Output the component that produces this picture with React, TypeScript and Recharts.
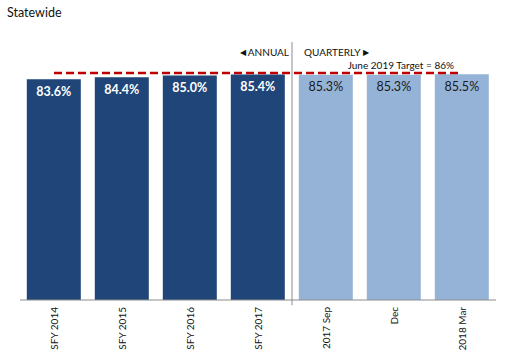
import { BarChart, Bar, Cell, XAxis, YAxis, ReferenceLine, LabelList } from "recharts";

const categories = ["SFY 2014", "SFY 2015", "SFY 2016", "SFY 2017", "2017 Sep", "Dec", "2018 Mar"];
const values = [83.6, 84.4, 85.0, 85.4, 85.3, 85.3, 85.5];
const periods = ["annual", "annual", "annual", "annual", "quarterly", "quarterly", "quarterly"];
const target = 86;
const targetLabel = "June 2019 Target = 86%";

const data = categories.map((name, i) => ({ name, value: values[i], period: periods[i] }));

const FONT = "Lato, 'Noto Sans', sans-serif";
const DARK = "#1F4579";
const LIGHT = "#95B3D7";

function RotatedTick({ x, payload }: any) {
  const y = 307;
  return (
    <text
      x={x}
      y={y}
      transform={`rotate(-90, ${x}, ${y})`}
      textAnchor="end"
      dominantBaseline="central"
      fontSize={10}
      fontFamily={FONT}
      fill="#111"
    >
      {payload.value}
    </text>
  );
}

function ValueLabel({ x, y, width, index, value }: any) {
  const annual = periods[index] === "annual";
  return (
    <text
      x={x + width / 2}
      y={y + 12}
      textAnchor="middle"
      dominantBaseline="central"
      fontSize={12.5}
      fontWeight={annual ? 700 : 400}
      fontFamily={FONT}
      fill={annual ? "#fff" : "#1a1a1a"}
    >
      {value.toFixed(1)}%
    </text>
  );
}

function DividerLabel({ viewBox }: any) {
  const x = viewBox?.x ?? 0;
  return (
    <g fontFamily={FONT} fontSize={10} fill="#111">
      <text x={x - 3} y={52} textAnchor="end" dominantBaseline="central">
        <tspan fontSize={8}>◀</tspan> ANNUAL
      </text>
      <text x={x + 12} y={52} textAnchor="start" dominantBaseline="central">
        QUARTERLY <tspan fontSize={8}>▶</tspan>
      </text>
    </g>
  );
}

function TargetLabel({ viewBox }: any) {
  const x = (viewBox?.x ?? 0) + (viewBox?.width ?? 0);
  const y = viewBox?.y ?? 0;
  return (
    <text x={x - 8} y={y - 8} textAnchor="end" dominantBaseline="central" fontSize={10} fontFamily={FONT} fill="#111">
      {targetLabel}
    </text>
  );
}

export default function App() {
  return (
    <div style={{ position: "absolute", left: 0, top: 0, width: 527, height: 356, background: "#fff" }}>
      <div style={{ position: "absolute", left: 7, top: 5, fontFamily: FONT, fontSize: 12.5, color: "#111" }}>
        Statewide
      </div>
      <BarChart
        width={527}
        height={356}
        data={data}
        margin={{ top: 36, right: 31, left: 20, bottom: 0 }}
        barCategoryGap="10%"
      >
        <XAxis
          dataKey="name"
          height={56}
          interval={0}
          tickLine={false}
          axisLine={{ stroke: "#8c8c8c" }}
          tick={<RotatedTick />}
        />
        <YAxis hide domain={[0, 100]} />
        <Bar dataKey="value" isAnimationActive={false}>
          {data.map((d, i) => (
            <Cell key={i} fill={d.period === "annual" ? DARK : LIGHT} />
          ))}
          <LabelList dataKey="value" content={<ValueLabel />} />
        </Bar>
        <ReferenceLine
          segment={[{ x: "SFY 2017", y: 97.7 }, { x: "SFY 2017", y: -2 }]}
          position="end"
          stroke="#8c8c8c"
          strokeWidth={1}
          ifOverflow="visible"
          label={<DividerLabel />}
        />
        <ReferenceLine
          segment={[{ x: categories[0], y: target }, { x: categories[categories.length - 1], y: target }]}
          stroke="#C00000"
          strokeWidth={2.5}
          strokeDasharray="8 4"
          ifOverflow="visible"
          label={<TargetLabel />}
        />
      </BarChart>
    </div>
  );
}
